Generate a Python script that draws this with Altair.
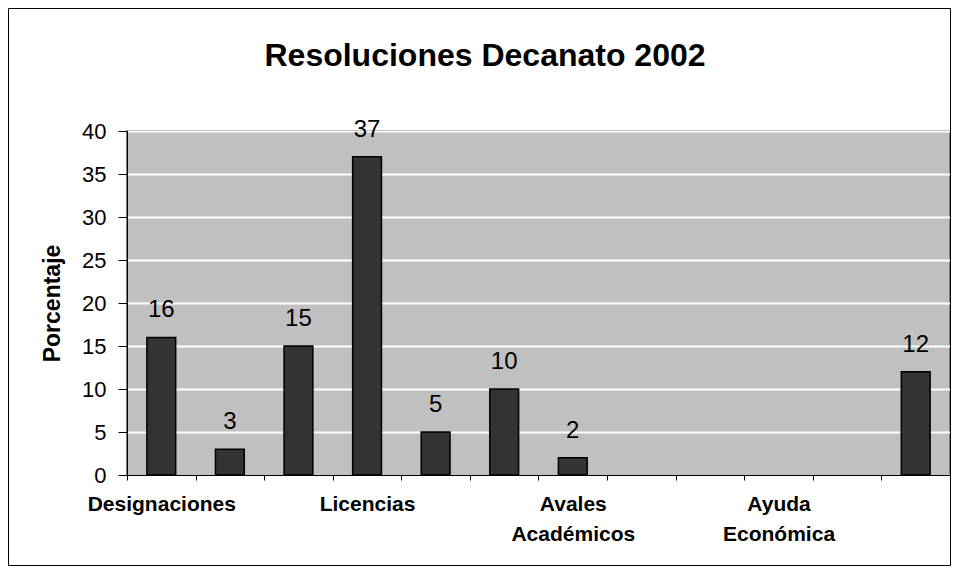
import json
import altair as alt
import pandas as pd

# ---- data ----
title_text = "Resoluciones Decanato 2002"
y_title = "Porcentaje"
# 12 category slots; only every third label is printed in the original
category_labels = ["Designaciones", "", "", "Licencias", "", "",
                   "Avales\nAcadémicos", "", "", "Ayuda\nEconómica", "", ""]
values = [16, 3, 15, 37, 5, 10, 2, 0, 0, 0, 0, 12]
y_ticks = [0, 5, 10, 15, 20, 25, 30, 35, 40]

FONT = "Liberation Sans"

df = pd.DataFrame({"idx": list(range(len(values))), "v": values})
df = df[df["v"] > 0]

label_arrays = [lab.split("\n") for lab in category_labels]
label_expr = json.dumps(label_arrays, ensure_ascii=False) + "[datum.value]"

x_enc = alt.X(
    "idx:O",
    scale=alt.Scale(domain=list(range(len(values))), paddingInner=0, paddingOuter=0),
    axis=alt.Axis(
        title=None, labelExpr=label_expr, labelAngle=0, labelFont=FONT,
        labelFontSize=21, labelFontWeight="bold", labelColor="black",
        labelPadding=13, labelLineHeight=30, labelBaseline="top",
        labelOverlap=False, tickBand="extent", tickSize=5, tickColor="black",
        domainColor="black", domainWidth=1, grid=False,
    ),
)
y_enc = alt.Y(
    "v:Q",
    scale=alt.Scale(domain=[0, 40], nice=False),
    axis=alt.Axis(
        title=y_title, values=y_ticks, titleFont=FONT, titleFontSize=23,
        titleFontWeight="bold", titleColor="black", titlePadding=17,
        labelFont=FONT, labelFontSize=22, labelColor="black", labelPadding=12,
        tickSize=9, tickColor="black", domainColor="black", domainWidth=1,
        gridColor="white", gridWidth=2, gridOpacity=1,
    ),
)

bars = alt.Chart(df).mark_bar(
    width=alt.RelativeBandSize(0.42), fill="#333333", stroke="black", strokeWidth=1.5
).encode(x=x_enc, y=y_enc)

labels = alt.Chart(df).mark_text(
    baseline="alphabetic", dy=-20, fontSize=24, font=FONT, color="black"
).encode(x=x_enc, y=y_enc, text="v:Q")

one = alt.Data(values=[{"a": 1}])

title = alt.Chart(one).mark_text(
    font=FONT, fontSize=32, fontWeight="bold", color="black",
    align="center", baseline="alphabetic"
).encode(x=alt.value(358), y=alt.value(-65), text=alt.value(title_text))

border = alt.Chart(one).mark_rect(
    fill="transparent", stroke="black", strokeWidth=1
).encode(x=alt.value(-118.5), x2=alt.value(823.5),
         y=alt.value(-122.5), y2=alt.value(434.5))

chart = alt.layer(border, bars, labels, title).properties(
    width=823, height=344,
    autosize=alt.AutoSizeParams(type="none"),
    padding={"left": 119, "top": 123, "right": 2, "bottom": 92},
    background="white",
).configure_view(
    fill="#c0c0c0", stroke="#808080", strokeWidth=2
)

chart.save("out.html", embed_options={"renderer": "svg", "actions": False})
